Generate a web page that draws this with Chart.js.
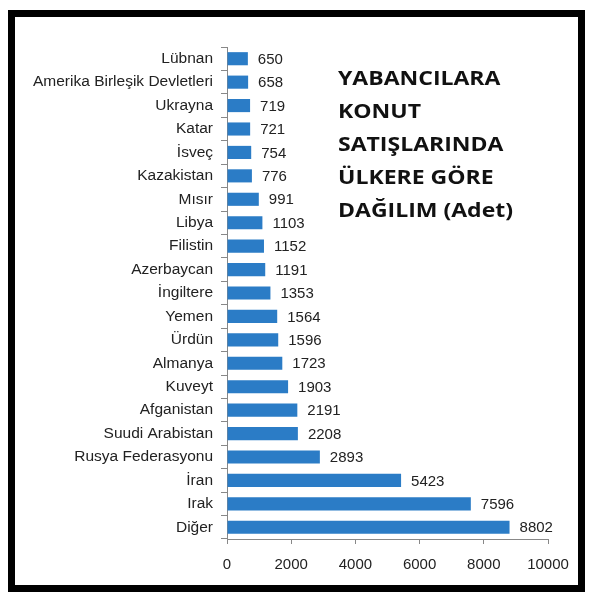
<!DOCTYPE html>
<html>
<head>
<meta charset="utf-8">
<script src="https://cdn.jsdelivr.net/npm/chart.js@4.4.0/dist/chart.umd.min.js"></script>
<style>
  html, body { margin: 0; padding: 0; background: #fff; }
  #wrap { position: relative; width: 600px; height: 604px; overflow: hidden; }
  #frame {
    position: absolute; left: 8px; top: 10px; width: 577px; height: 582px;
    border: 7px solid #000; box-sizing: border-box; pointer-events: none;
  }
  #title {
    position: absolute; left: 338px; top: 61px;
    font-family: "Open Sans", sans-serif; font-weight: bold;
    font-size: 20px; line-height: 33px; color: #111;
    transform: scaleX(1.15); transform-origin: left top;
  }
  canvas { position: absolute; left: 0; top: 0; }
</style>
</head>
<body>
<div id="wrap">
  <canvas id="chart" width="600" height="604"></canvas>
  <div id="frame"></div>
  <div id="title">YABANCILARA<br>KONUT<br>SATIŞLARINDA<br>ÜLKERE GÖRE<br>DAĞILIM (Adet)</div>
</div>
<script>
// ============================
// Data
// ============================
const countries = [
  "Lübnan", "Amerika Birleşik Devletleri", "Ukrayna", "Katar", "İsveç",
  "Kazakistan", "Mısır", "Libya", "Filistin", "Azerbaycan", "İngiltere",
  "Yemen", "Ürdün", "Almanya", "Kuveyt", "Afganistan", "Suudi Arabistan",
  "Rusya Federasyonu", "İran", "Irak", "Diğer"
];
const sales = [
  650, 658, 719, 721, 754, 776, 991, 1103, 1152, 1191, 1353,
  1564, 1596, 1723, 1903, 2191, 2208, 2893, 5423, 7596, 8802
];
const xMin = 0;
const xMax = 10000;
const xStep = 2000;

const labelFont = "'Liberation Sans', Arial, sans-serif";

// ============================
// Value labels at bar ends
// ============================
const valueLabels = {
  id: "valueLabels",
  afterDatasetsDraw(chart) {
    const ctx = chart.ctx;
    const meta = chart.getDatasetMeta(0);
    ctx.save();
    ctx.font = "15px " + labelFont;
    ctx.fillStyle = "#222";
    ctx.textAlign = "left";
    ctx.textBaseline = "middle";
    meta.data.forEach((bar, i) => {
      ctx.fillText(String(sales[i]), bar.x + 10, bar.y + 1);
    });
    ctx.restore();
  }
};

const ctx = document.getElementById("chart").getContext("2d");
new Chart(ctx, {
  type: "bar",
  data: {
    labels: countries,
    datasets: [{
      data: sales,
      backgroundColor: "#2b7cc6",
      borderWidth: 0,
      barPercentage: 0.56,
      categoryPercentage: 1.0
    }]
  },
  options: {
    indexAxis: "y",
    responsive: false,
    animation: false,
    layout: { padding: { top: 47, right: 52, left: 0, bottom: 0 } },
    plugins: {
      legend: { display: false },
      tooltip: { enabled: false }
    },
    scales: {
      x: {
        min: xMin,
        max: xMax,
        ticks: {
          stepSize: xStep,
          color: "#222",
          padding: 12,
          callback: v => String(v),
          font: { family: labelFont, size: 15 }
        },
        grid: { drawOnChartArea: false, drawTicks: true, tickLength: 5, color: "#888" },
        border: { color: "#888" },
        afterFit: s => { s.height = 65; }
      },
      y: {
        ticks: {
          color: "#222",
          padding: 8,
          autoSkip: false,
          font: { family: labelFont, size: 15.5 }
        },
        grid: { drawOnChartArea: false, drawTicks: true, tickLength: 6, color: "#888", offset: true },
        border: { color: "#888" },
        afterFit: s => { s.width = 227; }
      }
    }
  },
  plugins: [valueLabels]
});
</script>
</body>
</html>
